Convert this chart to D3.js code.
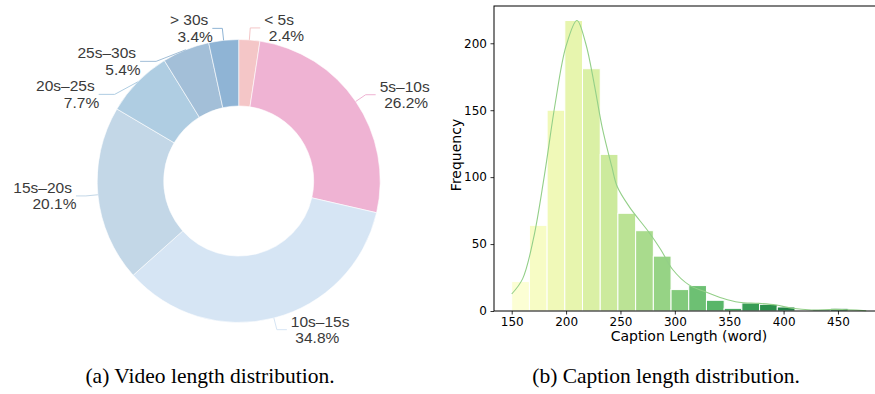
<!DOCTYPE html>
<html>
<head>
<meta charset="utf-8">
<script src="https://cdn.jsdelivr.net/npm/d3@7"></script>
<style>
  body { margin: 0; background: #fff; }
  svg { display: block; }
</style>
</head>
<body>
<div id="graphic"></div>
<script>
// (a) video length shares, clockwise from 12 o'clock
const durationLabels = ["< 5s", "5s\u201310s", "10s\u201315s", "15s\u201320s", "20s\u201325s", "25s\u201330s", "> 30s"];
const durationShares = [2.4, 26.2, 34.8, 20.1, 7.7, 5.4, 3.4];
const sliceColors = ["#f4c6c7", "#efb3d3", "#d6e5f4", "#c3d7e7", "#afcde2", "#a3bfd8", "#8fb4d5"];

// (b) caption length histogram
const captionMin = 150, captionMax = 475.6;
const captionCounts = [22, 64, 150, 217, 181, 117, 73, 60, 41, 16, 19, 8, 2, 6, 5, 3, 0, 1, 2, 0];
const kdeX = [150, 160, 170, 180, 190, 200, 210, 218, 226, 233, 242, 247, 258, 276, 287, 298, 313, 328, 344, 359, 377, 393, 408, 426, 448, 476];
const kdeY = [12.7, 24, 54, 101, 155, 198, 217, 200, 169, 138, 108, 93, 78, 59, 46, 31, 19.5, 14.4, 9.5, 6.5, 5.7, 4.5, 2, 0.8, 1.2, 0.2];
const xTickValues = [150, 200, 250, 300, 350, 400, 450];
const yTickValues = [0, 50, 100, 150, 200];

const svg = d3.select("#graphic")
    .append("svg")
    .attr("width", 875)
    .attr("height", 394)

// ---------- donut ----------
const cx = 238.7, cy = 181, rOuter = 141.5, rInner = 75;
const donut = svg.append("g").attr("transform", `translate(${cx},${cy})`)

const pie = d3.pie().sort(null).value(d => d)
const arcs = pie(durationShares)
const arc = d3.arc().innerRadius(rInner).outerRadius(rOuter)

donut.selectAll("path")
    .data(arcs)
    .join("path")
    .attr("d", arc)
    .attr("fill", (d, i) => sliceColors[i])
    .attr("stroke", "#fff")
    .attr("stroke-width", 0.6)

// label layout: radial elbow, then push apart on each side
const len1 = 12, len2 = 10, gap = 4, minSpace = 33;
const labels = arcs.map((d, i) => {
    const a = (d.startAngle + d.endAngle) / 2;
    const r2 = rOuter + len1;
    return {
        i, a,
        side: Math.sin(a) >= 0 ? 1 : -1,
        p0: [rOuter * Math.sin(a), -rOuter * Math.cos(a)],
        x: r2 * Math.sin(a),
        y: -r2 * Math.cos(a),
        moved: false
    }
})
;[1, -1].forEach(side => {
    const list = labels.filter(l => l.side === side).sort((a, b) => a.y - b.y)
    for (let k = 1; k < list.length; k++) {
        if (list[k].y < list[k - 1].y + minSpace) {
            list[k].y = list[k - 1].y + minSpace;
            list[k].moved = true;
        }
    }
})
const rA = rOuter + 16, rB = rOuter - 1;
labels.forEach(l => {
    if (l.moved) {
        const t = Math.max(0, 1 - (l.y * l.y) / (rB * rB));
        l.x = l.side * rA * Math.sqrt(t);
    }
    l.x2 = l.x + l.side * (l.moved ? len2 + 6 : len2);
})

donut.selectAll("polyline")
    .data(labels)
    .join("polyline")
    .attr("points", l => [l.p0, [l.x, l.y], [l.x2, l.y]].map(p => p.join(",")).join(" "))
    .attr("fill", "none")
    .attr("stroke", l => sliceColors[l.i])
    .attr("stroke-width", 1)

const labelText = donut.selectAll("text.lbl")
    .data(labels)
    .join("text")
    .attr("class", "lbl")
    .attr("font-family", "'Liberation Sans', Arial, sans-serif")
    .attr("font-size", "15.5px")
    .attr("fill", "#3a3a3a")
    .attr("text-anchor", l => l.side > 0 ? "start" : "end")
labelText.append("tspan")
    .attr("x", l => l.x2 + l.side * gap)
    .attr("y", l => l.y - 3)
    .text(l => durationLabels[l.i])
labelText.append("tspan")
    .attr("x", l => l.x2 + l.side * gap + 4.5)
    .attr("y", l => l.y + 13.5)
    .text(l => durationShares[l.i].toFixed(1) + "%")

// ---------- histogram ----------
const plotLeft = 494, plotRight = 883.5, plotTop = 6, plotBottom = 311;
const nBins = captionCounts.length;
const binWidth = (captionMax - captionMin) / nBins;
const pad = (captionMax - captionMin) * 0.05;

const x = d3.scaleLinear()
    .domain([captionMin - pad, captionMax + pad])
    .range([plotLeft, plotRight])
const y = d3.scaleLinear()
    .domain([0, d3.max(captionCounts) * 1.05])
    .range([plotBottom, plotTop])

const bins = captionCounts.map((c, i) => ({
    x0: captionMin + i * binWidth,
    x1: captionMin + (i + 1) * binWidth,
    count: c,
    color: d3.interpolateYlGn((i + 1) / (nBins + 1))
}))

const hist = svg.append("g")

hist.selectAll("rect")
    .data(bins)
    .join("rect")
    .attr("x", d => x(d.x0))
    .attr("y", d => y(d.count))
    .attr("width", d => x(d.x1) - x(d.x0))
    .attr("height", d => y(0) - y(d.count))
    .attr("fill", d => d.color)
    .attr("stroke", "#fff")
    .attr("stroke-width", 1)

const kdeLine = d3.line()
    .x(d => x(d[0]))
    .y(d => y(d[1]))
    .curve(d3.curveCatmullRom)

hist.append("path")
    .datum(kdeX.map((v, i) => [v, kdeY[i]]))
    .attr("d", kdeLine)
    .attr("fill", "none")
    .attr("stroke", "#93cf88")
    .attr("stroke-width", 1.1)

const tickFont = "'DejaVu Sans', sans-serif";

const xAxis = hist.append("g")
    .attr("transform", `translate(0,${plotBottom})`)
    .call(d3.axisBottom(x).tickValues(xTickValues).tickSize(3.5).tickPadding(3).tickSizeOuter(0))
xAxis.select(".domain").remove()

const yAxis = hist.append("g")
    .attr("transform", `translate(${plotLeft},0)`)
    .call(d3.axisLeft(y).tickValues(yTickValues).tickSize(3.5).tickPadding(3.5).tickSizeOuter(0))
yAxis.select(".domain").remove()

;[xAxis, yAxis].forEach(g => {
    g.selectAll("text")
        .attr("font-family", tickFont)
        .attr("font-size", "12px")
        .attr("fill", "#000")
    g.selectAll("line").attr("stroke", "#000").attr("stroke-width", 0.8)
})

// spines
hist.append("rect")
    .attr("x", plotLeft)
    .attr("y", plotTop)
    .attr("width", plotRight - plotLeft)
    .attr("height", plotBottom - plotTop)
    .attr("fill", "none")
    .attr("stroke", "#000")
    .attr("stroke-width", 1)

hist.append("text")
    .attr("x", 689)
    .attr("y", 340.5)
    .attr("text-anchor", "middle")
    .attr("font-family", tickFont)
    .attr("font-size", "14px")
    .text("Caption Length (word)")

hist.append("text")
    .attr("transform", `translate(461,155) rotate(-90)`)
    .attr("text-anchor", "middle")
    .attr("font-family", tickFont)
    .attr("font-size", "14px")
    .text("Frequency")

// ---------- sub captions ----------
const captionFont = "'Liberation Serif', 'Times New Roman', serif";
svg.append("text")
    .attr("x", 210)
    .attr("y", 383)
    .attr("text-anchor", "middle")
    .attr("font-family", captionFont)
    .attr("font-size", "21.5px")
    .text("(a) Video length distribution.")
svg.append("text")
    .attr("x", 666)
    .attr("y", 383)
    .attr("text-anchor", "middle")
    .attr("font-family", captionFont)
    .attr("font-size", "21.5px")
    .text("(b) Caption length distribution.")
</script>
</body>
</html>
